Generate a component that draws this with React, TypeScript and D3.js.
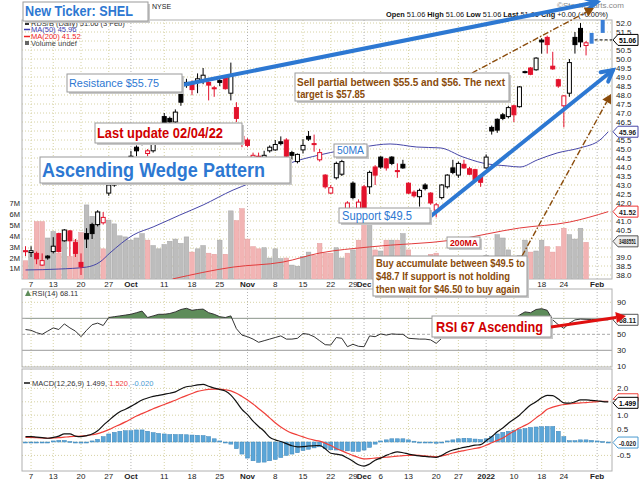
import React from 'react';
import * as d3 from 'd3';

const FONT = 'Arial, "Liberation Sans", Helvetica, sans-serif';

// trading-day index 0 = 3 Sep 2021, 105 = 3 Feb 2022
const tickIdx = [1, 5, 10, 15, 19, 25, 30, 35, 40, 45, 50, 55, 59, 61, 64, 69, 74, 78, 83, 88, 93, 97, 103];
const tickText = ['7', '13', '20', '27', 'Oct', '11', '18', '25', 'Nov', '8', '15', '22', '29', 'Dec', '6', '13', '20', '27', '2022', '10', '18', '24', 'Feb'];
const boldTicks = ['Oct', 'Nov', 'Dec', '2022', 'Feb'];

const prevClose0 = 39.5;
const opens = [
  39.35, 39.25, 39.2, 38.55, 39.05, 39.3, 40.3, 39.9, 40.45, 39.8,
  38.7, 40.3, 40.8, 40.8, 40.9, 42.55, 43.0, 43.9, 43.8, 44.4,
  45.1, 45.3, 44.75, 44.9, 45.5, 46.8, 46.7, 46.5, 48.2, 48.55,
  48.65, 48.7, 48.85, 48.7, 48.4, 48.8, 49.0, 48.1, 47.3, 45.7,
  45.5, 44.5, 44.6, 44.5, 44.9, 44.95, 45.4, 45.5, 44.8, 44.3,
  44.95, 45.7, 45.3, 44.4, 43.55, 42.55, 43.4, 43.6, 41.6, 43.1,
  41.7, 42.9, 42.9, 44.0, 44.55, 44.45, 44.55, 43.8, 44.15, 43.1,
  42.6, 42.35, 43.0, 42.55, 41.6, 42.3, 42.9, 43.95, 43.55, 44.15,
  43.9, 43.85, 43.5, 43.95, 46.2, 46.65, 46.9, 46.8, 47.4, 47.35,
  49.25, 49.5, 49.4, 51.05, 51.2, 49.6, 48.85, 47.4, 48.1, 51.2,
  51.7, 50.75,
];
const highs = [
  39.6, 39.6, 39.3, 39.2, 39.1, 40.1, 40.35, 40.55, 40.5, 40.0,
  39.2, 40.6, 40.9, 41.6, 41.5, 43.1, 43.8, 44.1, 44.5, 44.9,
  45.2, 45.9, 45.0, 45.6, 46.4, 47.0, 46.8, 47.2, 48.3, 48.9,
  48.8, 49.2, 49.5, 48.8, 48.5, 48.9, 49.1, 49.8, 47.6, 45.8,
  45.6, 44.8, 44.8, 44.9, 45.2, 45.5, 45.7, 45.6, 44.9, 44.75,
  45.55, 46.0, 45.8, 45.0, 43.6, 43.0, 44.3, 44.4, 42.1, 43.2,
  42.2, 43.0, 43.8, 44.1, 44.6, 44.5, 44.6, 44.2, 44.4, 43.15,
  42.7, 42.8, 43.1, 42.6, 42.0, 43.05, 43.6, 44.4, 44.3, 44.4,
  44.0, 43.9, 43.55, 44.7, 46.3, 46.7, 47.0, 47.4, 47.45, 48.5,
  49.35, 49.55, 50.1, 51.15, 51.3, 50.4, 48.9, 48.0, 50.0, 51.5,
  52.0, 51.0,
];
const lows = [
  39.05, 39.0, 38.6, 38.5, 38.85, 39.2, 39.25, 39.85, 39.05, 39.0,
  38.0, 39.5, 40.0, 40.7, 40.8, 42.4, 42.9, 43.0, 43.6, 44.0,
  44.6, 45.2, 44.6, 44.8, 45.4, 46.3, 46.4, 46.4, 47.4, 48.4,
  48.0, 48.1, 48.6, 47.7, 47.9, 48.5, 48.3, 47.7, 46.5, 45.1,
  45.1, 44.4, 44.2, 44.4, 44.8, 44.9, 45.2, 44.5, 44.4, 44.2,
  44.75, 45.45, 44.85, 44.3, 42.8, 42.5, 43.3, 43.5, 41.5, 42.2,
  41.4, 40.8, 42.5, 43.0, 43.9, 43.8, 44.1, 43.4, 43.9, 42.5,
  42.3, 41.8, 42.7, 41.9, 41.2, 42.2, 42.8, 43.6, 43.4, 43.9,
  43.55, 43.2, 42.9, 43.9, 45.8, 45.9, 46.6, 46.7, 46.5, 47.3,
  49.2, 49.1, 49.35, 50.3, 50.3, 49.4, 48.4, 46.2, 47.9, 50.3,
  50.65, 50.2,
];
const closes = [
  39.3, 39.35, 38.9, 38.8, 38.95, 39.6, 39.3, 40.5, 39.9, 39.2,
  38.45, 40.0, 40.3, 41.5, 41.2, 43.0, 43.4, 43.7, 44.3, 44.6,
  44.9, 45.5, 44.9, 45.3, 46.2, 46.45, 46.5, 47.05, 47.6, 48.7,
  48.3, 48.9, 49.1, 48.55, 48.35, 48.7, 48.35, 49.1, 46.7, 45.3,
  45.2, 44.65, 44.5, 44.65, 45.1, 45.25, 45.3, 44.6, 44.65, 44.7,
  45.2, 45.55, 45.25, 44.8, 42.9, 42.85, 44.2, 44.3, 42.0, 42.3,
  42.05, 41.1, 43.7, 43.55, 44.0, 43.95, 44.2, 43.75, 43.95, 42.55,
  42.4, 42.7, 42.8, 42.0, 41.9, 43.0, 43.55, 43.7, 44.2, 43.95,
  43.6, 43.3, 43.15, 44.55, 46.0, 46.05, 46.7, 47.3, 46.9, 48.45,
  49.3, 49.15, 50.05, 50.95, 50.8, 49.45, 48.5, 47.95, 49.8, 50.8,
  50.95, 50.9,
];
// odd blue bars after the ticker change
const blueIdx = [102, 104];
const blueLo = [50.85, 51.45];
const blueHi = [51.45, 52.3];

// volume, millions
const volumes = [
  1.7, 2.5, 5.3, 5.3, 3.8, 4.4, 2.4, 4.2, 2.1, 3.6,
  4.3, 6.85, 5.8, 6.2, 2.8, 5.45, 5.1, 4.0, 3.9, 3.6,
  3.8, 4.2, 3.6, 3.1, 2.8, 3.2, 3.5, 3.7, 3.3, 3.9,
  2.5, 2.8, 3.1, 2.4, 2.3, 3.6, 2.3, 6.3, 5.4, 6.5,
  3.7, 3.0, 2.8, 2.9, 1.95, 2.8, 1.9, 1.95, 1.3, 1.2,
  2.1, 2.5, 2.2, 3.3, 2.4, 2.4, 2.9, 1.95, 2.4, 2.7,
  3.6, 8.2, 5.3, 2.7, 2.6, 3.6, 3.6, 3.6, 4.2, 2.7,
  1.8, 1.9, 2.0, 2.3, 2.4, 1.8, 1.6, 1.5, 1.9, 1.7,
  1.8, 1.7, 1.4, 2.2, 2.1, 4.1, 3.8, 2.7, 2.1, 2.2,
  3.6, 2.5, 2.6, 3.6, 3.0, 2.5, 3.0, 4.7, 4.1, 3.7,
  4.7, 3.4,
];

// moving averages: [day index, value]
const ma50 = [
  [0, 38.28], [6, 38.33], [11, 38.44], [13.4, 38.72], [15.2, 39.22], [19.4, 40.22], [23, 40.67],
  [27.8, 41.33], [32, 41.89], [37.4, 42.72], [40.5, 43.11], [47.7, 44.22], [53, 44.67], [60.8, 45.11],
  [65.7, 45.28], [70.5, 45.11], [74.7, 45.06], [78.8, 44.56], [82.4, 44.22], [86.8, 44.06], [89.1, 44.0],
  [92.2, 44.39], [95.8, 44.78], [99.9, 45.06], [103.5, 45.5], [105, 45.96],
];
const ma200 = [
  [26.5, 37.78], [37.4, 38.44], [46.4, 38.72], [53, 39.22], [62, 39.56], [77, 39.94],
  [89, 40.61], [98, 40.94], [105, 41.52],
];

const rsi = [
  56, 55, 52, 50, 54, 58, 56, 63, 58, 54,
  47, 55, 62, 64, 61, 71, 72, 73, 74, 75,
  77, 79, 71, 73, 75, 75, 76, 78, 81, 82.5,
  80, 81, 81.5, 77, 75, 72, 71, 73, 57, 49,
  47, 44, 40, 42, 44, 46, 48, 44, 44, 45,
  51, 50, 47, 42, 37, 36.6, 46, 45, 34.5, 37.5,
  35, 34.5, 48, 47, 50.5, 49, 50.5, 50, 50, 45,
  44.5, 44, 44, 43, 38.7, 45, 48, 50, 52, 51,
  50, 49, 48, 55, 62, 64, 66, 68, 69, 74,
  78, 77, 81, 82, 80, 68, 62, 57.5, 64, 68,
  69, 68.7, 68.5, 68.3, 68.2, 68.1,
];

const macd = [
  0.2, 0.2, 0.18, 0.16, 0.14, 0.17, 0.22, 0.3, 0.3, 0.22,
  0.2, 0.24, 0.3, 0.42, 0.62, 0.8, 0.98, 1.13, 1.22, 1.33,
  1.45, 1.57, 1.64, 1.7, 1.74, 1.78, 1.82, 1.87, 1.98, 2.06,
  2.09, 2.13, 2.15, 2.08, 2.01, 1.96, 1.9, 1.75, 1.5, 1.22,
  1.02, 0.78, 0.58, 0.4, 0.18, 0.08, 0.02, -0.06, -0.14, -0.18,
  -0.17, -0.15, -0.14, -0.13, -0.25, -0.42, -0.45, -0.49, -0.6, -0.72,
  -0.85, -0.9, -0.82, -0.68, -0.6, -0.5, -0.42, -0.37, -0.4, -0.45,
  -0.49, -0.52, -0.54, -0.56, -0.57, -0.5, -0.38, -0.3, -0.25, -0.2,
  -0.16, -0.12, -0.1, 0.05, 0.2, 0.38, 0.52, 0.7, 0.85, 1.0,
  1.2, 1.38, 1.5, 1.65, 1.74, 1.73, 1.6, 1.46, 1.45, 1.5,
  1.57, 1.57, 1.55, 1.54, 1.51, 1.5,
];
const signal = [
  0.17, 0.17, 0.16, 0.15, 0.14, 0.15, 0.16, 0.18, 0.2, 0.21,
  0.22, 0.24, 0.27, 0.31, 0.38, 0.46, 0.56, 0.65, 0.75, 0.86,
  0.97, 1.06, 1.15, 1.24, 1.32, 1.4, 1.48, 1.56, 1.65, 1.73,
  1.81, 1.89, 1.93, 1.96, 1.97, 1.97, 1.95, 1.91, 1.82, 1.7,
  1.57, 1.42, 1.25, 1.08, 0.9, 0.72, 0.56, 0.43, 0.33, 0.26,
  0.19, 0.12, 0.07, 0.03, -0.04, -0.13, -0.24, -0.33, -0.42, -0.5,
  -0.58, -0.63, -0.62, -0.6, -0.58, -0.57, -0.55, -0.53, -0.51, -0.5,
  -0.49, -0.5, -0.52, -0.54, -0.55, -0.52, -0.47, -0.41, -0.36, -0.32,
  -0.28, -0.24, -0.2, -0.12, -0.03, 0.06, 0.15, 0.28, 0.4, 0.52,
  0.62, 0.74, 0.9, 1.05, 1.22, 1.3, 1.36, 1.4, 1.42, 1.44,
  1.46, 1.47, 1.49, 1.51, 1.52, 1.52,
];
const hist = [
  -0.02, -0.02, -0.03, -0.03, -0.02, 0.04, 0.06, 0.06, 0.02, -0.02,
  -0.04, 0.0, 0.04, 0.1, 0.2, 0.3, 0.36, 0.4, 0.42, 0.42,
  0.45, 0.45, 0.4, 0.35, 0.32, 0.3, 0.28, 0.28, 0.28, 0.27,
  0.26, 0.25, 0.24, 0.2, 0.12, 0.04, -0.02, -0.08, -0.25, -0.45,
  -0.6, -0.7, -0.76, -0.75, -0.7, -0.65, -0.58, -0.5, -0.45, -0.4,
  -0.32, -0.27, -0.22, -0.18, -0.25, -0.29, -0.3, -0.31, -0.33, -0.35,
  -0.35, -0.3, -0.2, -0.08, 0.04, 0.08, 0.12, 0.12, 0.12, 0.08,
  0.03, -0.01, -0.02, -0.03, -0.05, -0.02, 0.04, 0.08, 0.12, 0.14,
  0.13, 0.11, 0.09, 0.12, 0.2, 0.3, 0.36, 0.4, 0.44, 0.47,
  0.5, 0.54, 0.56, 0.57, 0.58, 0.58, 0.4, 0.2, 0.05, 0.05,
  0.08, 0.08, 0.06, 0.04, 0.02, -0.02,
];

const priceTicks = d3.range(38, 52.001, 0.5);
const volTicks = [1, 2, 3, 4, 5, 6, 7];
const rsiTicks = [10, 30, 50, 70, 90];
const macdTicks = [-0.5, 0, 0.5, 1, 1.5, 2];

const L = 22, R = 612;
const P = { top: 20, bot: 279 };
const RS = { top: 289, bot: 367 };
const MC = { top: 369, bot: 471 };

const grid = '#d6d2a4';
const BLUE = '#2d78d2';
const BROWN = '#8a4b0a';

function Box({ x, y, w, h }: any) {
  return (
    <g>
      <rect x={x + 2} y={y + 2} width={w} height={h} fill="#c8c8c8" />
      <rect x={x} y={y} width={w} height={h} fill="#fff" stroke="#9a9a9a" strokeWidth={1} />
    </g>
  );
}

function Arrow({ x1, y1, x2, y2, color, w, dash, head, chevron }: any) {
  const a = Math.atan2(y2 - y1, x2 - x1);
  const hx = x2 - head * Math.cos(a);
  const hy = y2 - head * Math.sin(a);
  const px = Math.sin(a) * head * 0.55;
  const py = -Math.cos(a) * head * 0.55;
  if (chevron) {
    return (
      <g stroke={color} strokeWidth={w} strokeLinecap="round" fill="none">
        <line x1={x1} y1={y1} x2={x2} y2={y2} />
        <polyline points={`${hx + px},${hy + py} ${x2},${y2} ${hx - px},${hy - py}`} strokeLinejoin="miter" />
      </g>
    );
  }
  return (
    <g>
      <line x1={x1} y1={y1} x2={hx} y2={hy} stroke={color} strokeWidth={w} strokeDasharray={dash} />
      <polygon points={`${x2},${y2} ${hx + px},${hy + py} ${hx - px},${hy - py}`} fill={color} />
    </g>
  );
}

function Tag({ y, text, stroke, color, w = 25, bg = '#fff' }: any) {
  const x = R + 1;
  return (
    <g>
      <polygon points={`${x},${y} ${x + 5},${y - 5.5} ${x + w},${y - 5.5} ${x + w},${y + 5.5} ${x + 5},${y + 5.5}`} fill={bg} stroke={stroke} strokeWidth={1} />
      <text x={x + 6} y={y + 3} fontSize={7.5} fontWeight="bold" fill={color} textLength={w - 8} lengthAdjust="spacingAndGlyphs">{text}</text>
    </g>
  );
}

export default function App() {
  const x = d3.scaleLinear().domain([0, 105]).range([25.5, 608.25]);
  const yP = d3.scaleLinear().domain([38, 52]).range([275, 23]);
  const yV = d3.scaleLinear().domain([0, 7]).range([279.2, 203.3]);
  const yR = d3.scaleLinear().domain([30, 70]).range([350.3, 318.3]);
  const yM = d3.scaleLinear().domain([-0.5, 2]).range([455.4, 388.4]);

  const maLine = d3.line<number[]>().x((d) => x(d[0])).y((d) => yP(d[1])).curve(d3.curveMonotoneX);
  const rsiLine = d3.line<number>().x((_, i) => x(i)).y((d) => yR(d));
  const rsiArea = d3.area<number>().x((_, i) => x(i)).y0(yR(70)).y1((d) => yR(d));
  const macdLine = d3.line<number>().x((_, i) => x(i)).y((d) => yM(d)).curve(d3.curveMonotoneX);

  // right-axis labels hidden behind the value tags
  const priceTagYs = [yP(51.06), yP(45.96), yP(41.52), yV(3.49)];
  const macdTagYs = [yM(1.52), yM(-0.02)];
  const free = (yy: number, tags: number[]) => tags.every((t) => Math.abs(t - yy) > 7);

  const vgrid = (top: number, bot: number) =>
    tickIdx.map((t, k) => (
      <line key={'vg' + top + k} x1={x(t)} x2={x(t)} y1={top} y2={bot}
        stroke={boldTicks.includes(tickText[k]) ? '#b4b4b4' : grid} strokeDasharray="1,2" />
    ));

  const xLabels = (yy: number) =>
    tickIdx.map((t, k) => (
      <text key={'xl' + yy + k} x={x(t)} y={yy} fontSize={8} textAnchor="middle"
        fontWeight={boldTicks.includes(tickText[k]) ? 'bold' : 'normal'} fill="#222">{tickText[k]}</text>
    ));

  return (
    <svg width={640} height={481} style={{ position: 'absolute', left: 0, top: 0, background: '#fff' }} fontFamily={FONT}>
      <defs>
        <clipPath id="clipP"><rect x={L} y={P.top} width={R - L} height={P.bot - P.top} /></clipPath>
        <clipPath id="clipR70"><rect x={L} y={RS.top} width={R - L} height={yR(70) - RS.top} /></clipPath>
        <clipPath id="clipM"><rect x={L} y={MC.top} width={R - L} height={MC.bot - MC.top} /></clipPath>
      </defs>
      <rect width={640} height={481} fill="#fff" />

      {/* ---------- price panel ---------- */}
      {priceTicks.map((p) => (
        <line key={'pg' + p} x1={L} x2={R} y1={yP(p)} y2={yP(p)} stroke={grid} strokeDasharray="1,2" />
      ))}
      {vgrid(P.top, P.bot)}
      <rect x={L} y={P.top} width={R - L} height={P.bot - P.top} fill="none" stroke="#b0b0b0" />

      <g clipPath="url(#clipP)">
        {volumes.map((v, i) => {
          const prev = i === 0 ? prevClose0 : closes[i - 1];
          const dn = closes[i] < prev;
          return (
            <rect key={'v' + i} x={x(i) - 2.3} y={yV(v)} width={4.6} height={yV(0) - yV(v)}
              fill={dn ? '#f2b4b4' : '#bdbdbd'} stroke={dn ? '#e39c9c' : '#a4a4a4'} strokeWidth={0.5} />
          );
        })}
        <path d={maLine(ma200 as any) || ''} fill="none" stroke="#e23b3b" strokeWidth={1} />
        <path d={maLine(ma50 as any) || ''} fill="none" stroke="#4646a8" strokeWidth={1} />
        {closes.map((c, i) => {
          const o = opens[i];
          const prev = i === 0 ? prevClose0 : closes[i - 1];
          const col = c < prev ? '#e3122c' : '#000';
          const hollow = c >= o;
          const top = yP(Math.max(o, c));
          const hgt = Math.max(1, Math.abs(yP(o) - yP(c)));
          return (
            <g key={'c' + i}>
              <line x1={x(i)} x2={x(i)} y1={yP(highs[i])} y2={yP(lows[i])} stroke={col} strokeWidth={1} />
              <rect x={x(i) - 2} y={top} width={4} height={hgt} fill={hollow ? '#fff' : col} stroke={col} strokeWidth={1} />
            </g>
          );
        })}
        {blueIdx.map((b, k) => (
          <rect key={'b' + k} x={x(b) - 2} y={yP(blueHi[k])} width={4} height={yP(blueLo[k]) - yP(blueHi[k])} fill="#3a7fd8" />
        ))}
        <line x1={x(102) + 3} x2={R} y1={yP(51.06)} y2={yP(51.06)} stroke="#000" strokeDasharray="3,2" />
      </g>

      {priceTicks.filter((p) => free(yP(p), priceTagYs)).map((p) => (
        <text key={'pl' + p} x={R + 4} y={yP(p) + 3} fontSize={8} fill="#222">{p.toFixed(1)}</text>
      ))}
      {volTicks.map((v) => (
        <text key={'vl' + v} x={20} y={yV(v) + 3} fontSize={7.5} textAnchor="end" fill="#222">{v}M</text>
      ))}
      {xLabels(287)}

      {/* legend */}
      <text x={152} y={9} fontSize={7} fill="#222">NYSE</text>
      <text x={386} y={17} fontSize={8} fill="#111" textLength={222} lengthAdjust="spacingAndGlyphs">
        <tspan fontWeight="bold">Open</tspan> 51.06 <tspan fontWeight="bold">High</tspan> 51.06 <tspan fontWeight="bold">Low</tspan> 51.06 <tspan fontWeight="bold">Last</tspan> 51.06 <tspan fontWeight="bold">Chg</tspan> +0.00 (+0.00%)
      </text>
      <text x={557} y={8} fontSize={8} fill="#888">©StockCharts.com</text>
      <g fontSize={7.5}>
        <rect x={25} y={20} width={4} height={5} fill="#333" />
        <text x={31} y={26} fill="#333">RDS/B (Daily) 51.06 (3 Feb)</text>
        <line x1={24} x2={30} y1={29.5} y2={29.5} stroke="#3b3bb0" strokeWidth={1.5} />
        <text x={31} y={32} fill="#3b3bb0">MA(50) 45.96</text>
        <line x1={24} x2={30} y1={36.5} y2={36.5} stroke="#e22" strokeWidth={1.5} />
        <text x={31} y={39} fill="#e22">MA(200) 41.52</text>
        <rect x={25} y={41} width={4} height={4} fill="#666" />
        <text x={31} y={46} fill="#444">Volume undef</text>
      </g>

      {/* right tags, price panel */}
      <Tag y={yV(3.49)} text="3488551" stroke="#555" color="#222" bg="#eee" />
      <Tag y={yP(41.52)} text="41.52" stroke="#e33" color="#222" />
      <Tag y={yP(45.96)} text="45.96" stroke="#4646a8" color="#222" />
      <Tag y={yP(51.06)} text="51.06" stroke="#000" color="#000" />

      {/* ---------- RSI panel ---------- */}
      {vgrid(RS.top, RS.bot)}
      {rsiTicks.map((r) => (
        <line key={'rg' + r} x1={L} x2={R} y1={yR(r)} y2={yR(r)}
          stroke={r === 70 || r === 30 ? '#9a9a9a' : r === 50 ? '#a8a8a8' : grid}
          strokeDasharray={r === 50 ? '3,2' : r === 70 || r === 30 ? undefined : '1,2'} />
      ))}
      <rect x={L} y={RS.top} width={R - L} height={RS.bot - RS.top} fill="none" stroke="#b0b0b0" />
      <path d={rsiArea(rsi) || ''} fill="#5e8c5a" clipPath="url(#clipR70)" />
      <path d={rsiLine(rsi) || ''} fill="none" stroke="#333" strokeWidth={1} />
      {rsiTicks.filter((r) => r !== 70).map((r) => (
        <text key={'rl' + r} x={R + 5} y={yR(r) + 3} fontSize={8} fill="#222">{r}</text>
      ))}
      <polygon points="25,296 28,290 31,296" fill="#5e8c5a" />
      <text x={32} y={296} fontSize={7.5} fill="#333">RSI(14) 68.11</text>
      <Tag y={yR(68.11)} text="68.11" stroke="#555" color="#222" />

      {/* ---------- MACD panel ---------- */}
      {macdTicks.map((m) => (
        <line key={'mg' + m} x1={L} x2={R} y1={yM(m)} y2={yM(m)} stroke={grid} strokeDasharray="1,2" />
      ))}
      {vgrid(MC.top, MC.bot)}
      <rect x={L} y={MC.top} width={R - L} height={MC.bot - MC.top} fill="none" stroke="#b0b0b0" />
      <g clipPath="url(#clipM)">
        {hist.map((h, i) => (
          <rect key={'h' + i} x={x(i) - 2} y={Math.min(yM(h), yM(0))} width={4}
            height={Math.max(1, Math.abs(yM(h) - yM(0)))} fill="#5ba6d8" stroke="#3c84b8" strokeWidth={0.5} />
        ))}
        <path d={macdLine(signal) || ''} fill="none" stroke="#f0403a" strokeWidth={1.2} />
        <path d={macdLine(macd) || ''} fill="none" stroke="#111" strokeWidth={1.2} />
      </g>
      {macdTicks.filter((m) => free(yM(m), macdTagYs)).map((m) => (
        <text key={'ml' + m} x={R + 5} y={yM(m) + 3} fontSize={8} fill="#222">{m.toFixed(1)}</text>
      ))}
      <line x1={24} x2={30} y1={383} y2={383} stroke="#111" strokeWidth={1.5} />
      <text x={32} y={386} fontSize={7.5} fill="#333">
        MACD(12,26,9) 1.499, <tspan fill="#f0403a">1.520</tspan><tspan fill="#4a9ad0">, -0.020</tspan>
      </text>
      <polygon points={`${R + 1},${yM(1.52) - 2} ${R + 6},${yM(1.52) - 7.5} ${R + 26},${yM(1.52) - 7.5} ${R + 26},${yM(1.52)}`} fill="#fff" stroke="#f0403a" />
      <Tag y={yM(1.499) + 1} text="1.499" stroke="#000" color="#000" />
      <Tag y={yM(-0.02)} text="-0.020" stroke="#4a9ad0" color="#222" />
      {xLabels(479)}

      {/* ---------- annotations ---------- */}
      <Arrow x1={182} y1={85} x2={597} y2={2} color={BLUE} w={4} head={11} chevron />
      <Arrow x1={431} y1={216} x2={613} y2={70} color={BLUE} w={4} head={11} chevron />
      <Arrow x1={472} y1={73} x2={594} y2={8} color={BROWN} w={1.4} dash="6,2,1.5,2" head={9} />
      <Arrow x1={522} y1={256} x2={611} y2={94} color={BROWN} w={1.4} dash="6,2,1.5,2" head={9} />

      <Box x={23} y={2} w={125} h={19} />
      <text x={25} y={16} fontSize={15} fontWeight="bold" fill={BLUE} textLength={108} lengthAdjust="spacingAndGlyphs">New Ticker: SHEL</text>

      <Box x={67} y={74} w={115} h={18} />
      <text x={69} y={87} fontSize={11} fill={BLUE} textLength={90} lengthAdjust="spacingAndGlyphs">Resistance $55.75</text>

      <Box x={95} y={123} w={147} h={20} />
      <text x={97} y={138} fontSize={14} fontWeight="bold" fill="#d00000" textLength={126} lengthAdjust="spacingAndGlyphs">Last update 02/04/22</text>

      <Box x={40} y={157} w={250} h={26} />
      <text x={42} y={177} fontSize={19.5} fontWeight="bold" fill={BLUE} textLength={223} lengthAdjust="spacingAndGlyphs">Ascending Wedge Pattern</text>

      <Box x={295} y={73} w={214} h={28} />
      <text x={297} y={86} fontSize={10.5} fontWeight="bold" fill={BROWN} textLength={208} lengthAdjust="spacingAndGlyphs">Sell partial between $55.5 and $56. The next</text>
      <text x={297} y={98} fontSize={10.5} fontWeight="bold" fill={BROWN} textLength={68} lengthAdjust="spacingAndGlyphs">target is $57.85</text>

      <Box x={334} y={144} w={33} h={13} />
      <text x={337} y={154} fontSize={10} fill={BLUE} textLength={27} lengthAdjust="spacingAndGlyphs">50MA</text>

      <Box x={339} y={208} w={91} h={15} />
      <text x={342} y={220} fontSize={12.5} fill={BLUE} textLength={70} lengthAdjust="spacingAndGlyphs">Support $49.5</text>

      <Box x={447} y={237} w={33} h={11} />
      <text x={450} y={246} fontSize={9.5} fontWeight="bold" fill="#d00000" textLength={28} lengthAdjust="spacingAndGlyphs">200MA</text>

      <Box x={373} y={256} w={154} h={40} />
      <text x={376} y={267} fontSize={11} fontWeight="bold" fill={BROWN} textLength={149} lengthAdjust="spacingAndGlyphs">Buy accumulate between $49.5 to</text>
      <text x={376} y={280} fontSize={11} fontWeight="bold" fill={BROWN} textLength={134} lengthAdjust="spacingAndGlyphs">$48.7 If support is not holding</text>
      <text x={376} y={293} fontSize={11} fontWeight="bold" fill={BROWN} textLength={144} lengthAdjust="spacingAndGlyphs">then wait for $46.50 to buy again</text>

      <Box x={432} y={316} w={119} h={21} />
      <text x={436} y={332} fontSize={14.5} fontWeight="bold" fill="#d00000" textLength={107} lengthAdjust="spacingAndGlyphs">RSI 67 Ascending</text>
      <Arrow x1={551} y1={327} x2={626} y2={316} color="#e01010" w={3} head={10} />
    </svg>
  );
}
